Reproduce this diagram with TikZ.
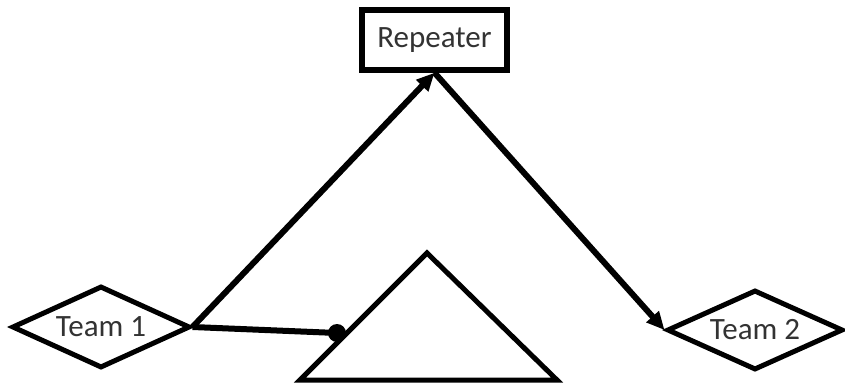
\documentclass[tikz,border=0pt]{standalone}
\usepackage{fontspec}
\setmainfont{Carlito}
\usetikzlibrary{shapes.geometric,arrows.meta}
\begin{document}
\begin{tikzpicture}[x=1pt,y=-1pt,
  lbl/.style={font=\fontsize{31}{36}\selectfont, text=black!80},
  teamshape/.style={draw, line width=5pt, shape=diamond, aspect=2.2, inner sep=0pt, lbl},
  boxshape/.style={draw, line width=5.5pt, rectangle, inner sep=0pt, minimum width=145pt, minimum height=60pt, lbl},
  conn/.style={line width=6pt},
  arr/.style={conn, -{Triangle[length=18pt,width=16pt]}},
  shapeline/.style={line width=5pt, line join=miter}
]
\useasboundingbox (0,0) rectangle (845,385);
\fill[white] (0,0) rectangle (845,385);
\node[boxshape] (rep) at (434.5,40) {Repeater};
\node[teamshape, minimum width=178pt, minimum height=82pt] (t1) at (101,327) {Team 1};
\node[teamshape, minimum width=176pt, minimum height=80pt] (t2) at (755,330) {Team 2};
% triangle
\coordinate (tl) at (300,380);
\coordinate (tt) at (427,253);
\coordinate (tr) at (557,380);
\draw[shapeline] (tl) -- (tt) -- (tr) -- cycle;
\coordinate (dot) at (337,333);
\draw[conn] (t1.east) -- (dot);
\fill (dot) circle (9pt);
\draw[arr] (t1.east) -- (rep.south);
\draw[arr] (rep.south) -- (t2.west);
\end{tikzpicture}
\end{document}
